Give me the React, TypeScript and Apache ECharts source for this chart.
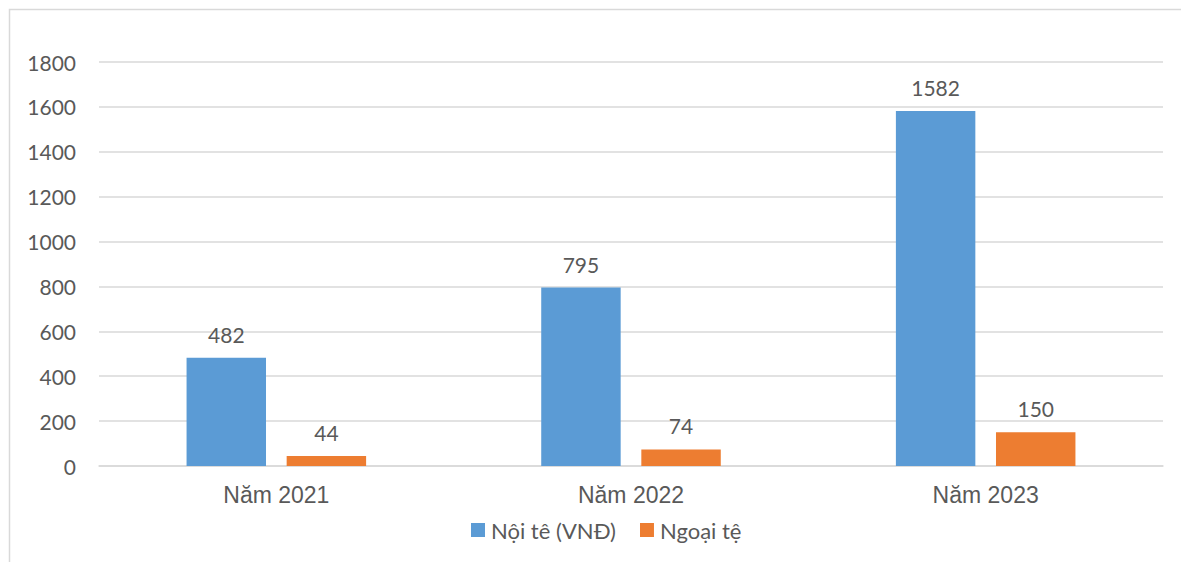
import React, { useEffect, useRef } from "react";
import * as echarts from "echarts";

// Categories and values
const years = ["Năm 2021", "Năm 2022", "Năm 2023"];
const domesticCurrency = [482, 795, 1582];
const foreignCurrency = [44, 74, 150];
const seriesNames = ["Nội tê (VNĐ)", "Ngoại tệ"];

const TEXT = "#595959";
const GRID = "#D9D9D9";

export default function App() {
  const ref = useRef<HTMLDivElement>(null);

  useEffect(() => {
    if (!ref.current) return;
    const chart = echarts.init(ref.current, undefined, { renderer: "svg" });
    const labelStyle = {
      show: true,
      position: "top" as const,
      distance: 13,
      color: TEXT,
      fontFamily: "Lato",
      fontSize: 21,
    };
    chart.setOption({
      animation: false,
      backgroundColor: "#ffffff",
      graphic: [
        {
          type: "rect",
          shape: { x: 9.5, y: 9.5, width: 1200, height: 600 },
          style: { fill: "none", stroke: GRID, lineWidth: 1.5 },
          silent: true,
        },
      ],
      grid: { left: 99, right: 18, top: 62, bottom: 96, containLabel: false },
      legend: {
        bottom: 16,
        left: 466,
        itemWidth: 14,
        itemHeight: 14,
        itemGap: 24,
        icon: "rect",
        textStyle: { color: TEXT, fontFamily: "Lato", fontSize: 22, padding: [0, 0, 0, 1] },
        data: seriesNames,
      },
      xAxis: {
        type: "category",
        data: years,
        axisLine: { show: true, lineStyle: { color: GRID, width: 1.5 } },
        axisTick: { show: false },
        axisLabel: {
          color: TEXT,
          fontFamily: "Liberation Sans",
          fontSize: 23,
          margin: 17,
        },
      },
      yAxis: {
        type: "value",
        min: 0,
        max: 1800,
        interval: 200,
        axisLine: { show: false },
        axisTick: { show: false },
        splitLine: { lineStyle: { color: GRID, width: 1.5 } },
        axisLabel: {
          color: TEXT,
          fontFamily: "Lato",
          fontSize: 21,
          margin: 23,
          formatter: (v: number) => String(v),
        },
      },
      series: [
        {
          name: seriesNames[0],
          type: "bar",
          data: domesticCurrency,
          barWidth: "22.4%",
          barGap: "26%",
          itemStyle: { color: "#5B9BD5" },
          label: labelStyle,
        },
        {
          name: seriesNames[1],
          type: "bar",
          data: foreignCurrency,
          barWidth: "22.4%",
          itemStyle: { color: "#ED7D31" },
          label: labelStyle,
        },
      ],
    });
    return () => chart.dispose();
  }, []);

  return (
    <div
      ref={ref}
      style={{ position: "fixed", left: 0, top: 0, width: 1181, height: 562 }}
    />
  );
}
